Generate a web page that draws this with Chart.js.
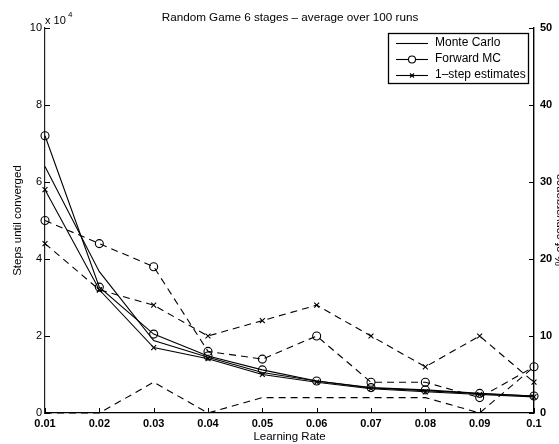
<!DOCTYPE html>
<html>
<head>
<meta charset="utf-8">
<script src="https://cdn.jsdelivr.net/npm/chart.js@4"></script>
<style>
  html, body { margin: 0; padding: 0; background: #fff; }
  #chart { display: block; }
</style>
</head>
<body>
<canvas id="chart" width="559" height="444"></canvas>
<script>
const rates = ["0.01", "0.02", "0.03", "0.04", "0.05", "0.06", "0.07", "0.08", "0.09", "0.1"];

// steps until converged (left axis)
const mcSteps = [64000, 36700, 18800, 14500, 10500, 8300, 6500, 5800, 5000, 4400];
const fwdSteps = [72000, 32700, 20500, 14800, 11200, 8300, 6600, 6000, 5100, 4400];
const oneStepSteps = [58000, 32000, 17000, 14100, 10000, 8000, 6300, 5500, 4800, 4200];

// % of convergence (right axis)
const mcPct = [0, 0, 4, 0, 2, 2, 2, 2, 0, 6];
const fwdPct = [25, 22, 19, 8, 7, 10, 4, 4, 2, 6];
const oneStepPct = [22, 16, 14, 10, 12, 14, 10, 6, 10, 4];

const leftTicks = [0, 20000, 40000, 60000, 80000, 100000];
const rightTicks = [0, 10, 20, 30, 40, 50];

const FONT = "'Liberation Sans', Arial, Helvetica, sans-serif";
const DASH = [7, 5];

function line(data, axis, style, dashed) {
    return {
        data: data,
        yAxisID: axis,
        borderColor: "#000",
        borderWidth: 1.1,
        borderDash: dashed ? DASH : [],
        pointStyle: style || "circle",
        pointRadius: style ? (style === "circle" ? 4 : 3.5) : 0,
        pointBorderColor: "#000",
        pointBackgroundColor: "rgba(0,0,0,0)",
        pointBorderWidth: 1.1,
        tension: 0,
        clip: false,
    };
}

const extras = {
    id: "extras",
    afterDraw(chart) {
        const ctx = chart.ctx;
        const x = chart.scales.x;
        const y = chart.scales.y;
        const y1 = chart.scales.y1;
        ctx.save();
        ctx.strokeStyle = "#000";
        ctx.lineWidth = 1;

        // inward tick marks
        ctx.beginPath();
        x.ticks.forEach((t, i) => {
            const px = Math.round(x.getPixelForTick(i)) + 0.5;
            ctx.moveTo(px, y.bottom);
            ctx.lineTo(px, y.bottom - 5);
        });
        leftTicks.forEach(v => {
            const py = Math.round(y.getPixelForValue(v)) + 0.5;
            ctx.moveTo(x.left, py);
            ctx.lineTo(x.left + 5, py);
        });
        rightTicks.forEach(v => {
            const py = Math.round(y1.getPixelForValue(v)) + 0.5;
            ctx.moveTo(x.right, py);
            ctx.lineTo(x.right - 5, py);
        });
        ctx.stroke();

        ctx.fillStyle = "#000";
        // title
        ctx.font = "11.7px " + FONT;
        ctx.textAlign = "center";
        ctx.textBaseline = "middle";
        ctx.fillText("Random Game 6 stages \u2013 average over 100 runs", 290, 18);

        // exponent
        ctx.textAlign = "left";
        ctx.font = "11px " + FONT;
        ctx.fillText("x 10", 45, 21);
        ctx.font = "8px " + FONT;
        ctx.fillText("4", 68, 15);

        // right axis title, clipped by the canvas edge
        ctx.save();
        ctx.translate(554, 220);
        ctx.rotate(-Math.PI / 2);
        ctx.font = "11.5px " + FONT;
        ctx.textAlign = "center";
        ctx.textBaseline = "top";
        ctx.fillText("% of convergence", 0, 0);
        ctx.restore();

        // legend
        const lx = 388, ly = 33, lw = 140, lh = 50;
        ctx.fillStyle = "#fff";
        ctx.fillRect(lx, ly, lw, lh);
        ctx.lineWidth = 1.3;
        ctx.strokeRect(lx + 0.5, ly + 0.5, lw, lh);
        const entries = [
            ["Monte Carlo", null],
            ["Forward MC", "circle"],
            ["1\u2013step estimates", "cross"],
        ];
        const rows = [43, 59, 75];
        ctx.lineWidth = 1.1;
        ctx.font = "12px " + FONT;
        ctx.textAlign = "left";
        ctx.textBaseline = "middle";
        entries.forEach((e, i) => {
            const yy = rows[i] + 0.5;
            ctx.beginPath();
            ctx.moveTo(396, yy);
            ctx.lineTo(428, yy);
            ctx.stroke();
            if (e[1] === "circle") {
                ctx.beginPath();
                ctx.arc(412, yy, 3.5, 0, Math.PI * 2);
                ctx.fillStyle = "#fff";
                ctx.fill();
                ctx.stroke();
            } else if (e[1] === "cross") {
                ctx.beginPath();
                ctx.moveTo(410, yy - 2);
                ctx.lineTo(414, yy + 2);
                ctx.moveTo(414, yy - 2);
                ctx.lineTo(410, yy + 2);
                ctx.stroke();
            }
            ctx.fillStyle = "#000";
            ctx.fillText(e[0], 435, rows[i]);
        });
        ctx.restore();
    },
};

new Chart(document.getElementById("chart"), {
    type: "line",
    data: {
        labels: rates,
        datasets: [
            line(mcPct, "y1", null, true),
            line(fwdPct, "y1", "circle", true),
            line(oneStepPct, "y1", "crossRot", true),
            line(mcSteps, "y", null, false),
            line(fwdSteps, "y", "circle", false),
            line(oneStepSteps, "y", "crossRot", false),
        ],
    },
    options: {
        responsive: false,
        animation: false,
        devicePixelRatio: 1,
        layout: { padding: { top: 28, left: 0, right: 0, bottom: 0 } },
        plugins: {
            legend: { display: false },
            title: { display: false },
            tooltip: { enabled: false },
        },
        scales: {
            x: {
                type: "category",
                offset: false,
                grid: { display: false, drawTicks: false },
                border: { display: true, color: "#000", width: 1.2 },
                ticks: {
                    color: "#000",
                    font: { family: FONT, size: 11, weight: "bold" },
                    padding: 4,
                    maxRotation: 0,
                    autoSkip: false,
                },
                title: {
                    display: true,
                    text: "Learning Rate",
                    color: "#000",
                    font: { family: FONT, size: 11.5 },
                    padding: { top: 0, bottom: 0 },
                },
                afterFit(s) { s.height = 31; },
            },
            y: {
                position: "left",
                min: 0,
                max: 100000,
                afterBuildTicks(s) { s.ticks = leftTicks.map(v => ({ value: v })); },
                grid: { display: false, drawTicks: false },
                border: { display: true, color: "#222", width: 1.2 },
                ticks: {
                    color: "#000",
                    font: { family: FONT, size: 11 },
                    padding: 3,
                    callback: v => String(v / 10000),
                },
                title: {
                    display: true,
                    text: "Steps until converged",
                    color: "#000",
                    font: { family: FONT, size: 11.5 },
                    padding: { top: 11, bottom: 0 },
                },
                afterFit(s) { s.width = 45; },
            },
            y1: {
                position: "right",
                min: 0,
                max: 50,
                afterBuildTicks(s) { s.ticks = rightTicks.map(v => ({ value: v })); },
                grid: { display: false, drawTicks: false, drawOnChartArea: false },
                border: { display: true, color: "#000", width: 1.4 },
                ticks: {
                    color: "#000",
                    font: { family: FONT, size: 11, weight: "bold" },
                    padding: 6,
                },
                afterFit(s) { s.width = 25; },
            },
        },
    },
    plugins: [extras],
});
</script>
</body>
</html>
